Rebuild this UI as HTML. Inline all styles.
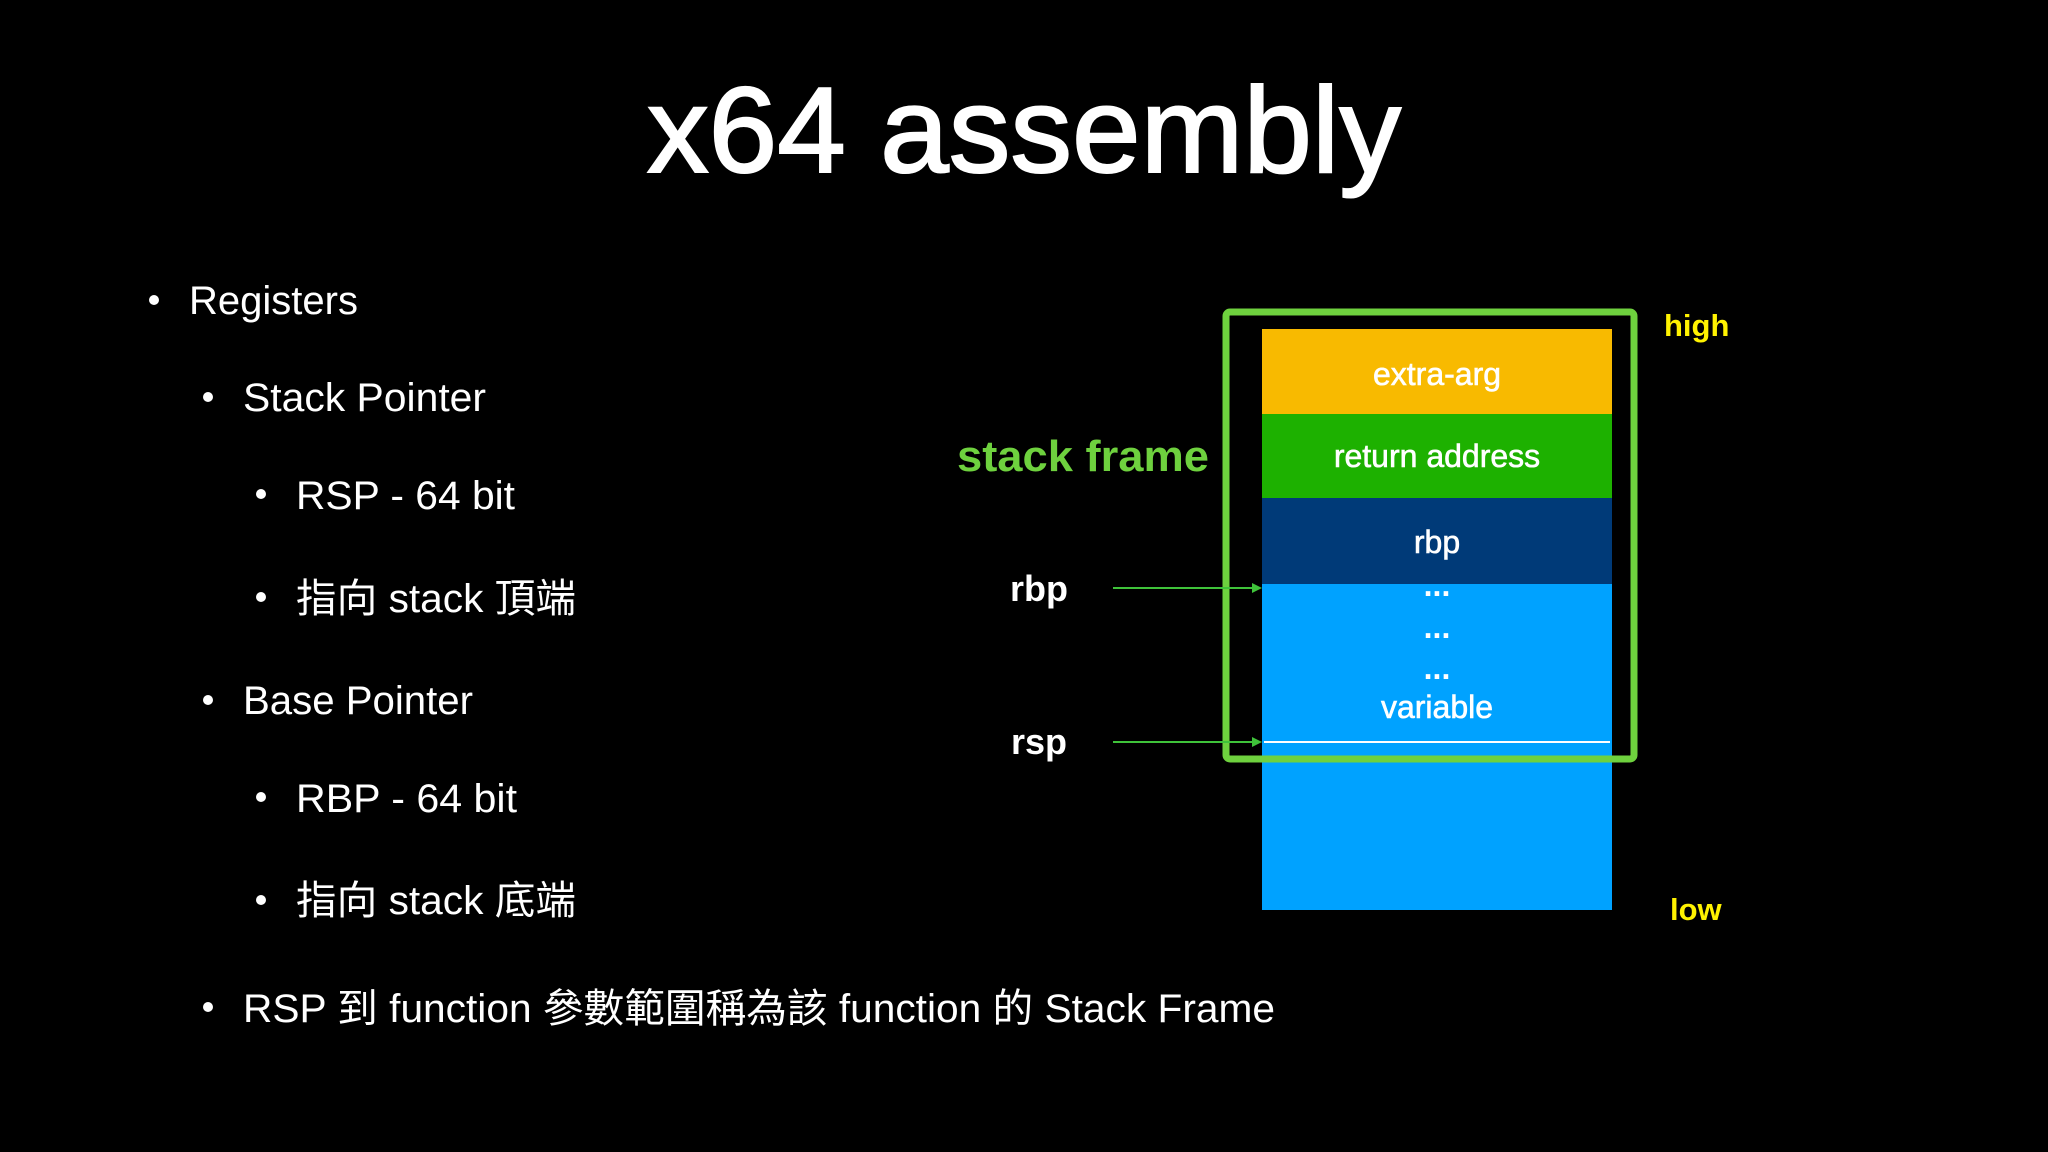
<!DOCTYPE html>
<html><head><meta charset="utf-8"><style>
html,body{margin:0;padding:0;background:#000;}
svg{display:block;}
text{font-family:"Liberation Sans","Noto Sans CJK TC",sans-serif;}
</style></head><body>
<svg width="2048" height="1152" viewBox="0 0 2048 1152" xmlns="http://www.w3.org/2000/svg">
<rect width="2048" height="1152" fill="#000"/>
<text x="1024" y="172" font-size="122" fill="#fff" stroke="#fff" stroke-width="2" text-anchor="middle" textLength="754" lengthAdjust="spacingAndGlyphs">x64 assembly</text>

<g fill="#fff" font-size="40">
<circle cx="154" cy="300" r="5"/>
<text x="189" y="314" textLength="169" lengthAdjust="spacingAndGlyphs">Registers</text>
<circle cx="208" cy="397" r="5"/>
<text x="243" y="411" textLength="243" lengthAdjust="spacingAndGlyphs">Stack Pointer</text>
<circle cx="261" cy="494" r="5"/>
<text x="296" y="509" textLength="219" lengthAdjust="spacingAndGlyphs">RSP - 64 bit</text>
<circle cx="261" cy="597" r="5"/>
<text x="296" y="612" textLength="280" lengthAdjust="spacingAndGlyphs">指向 stack 頂端</text>
<circle cx="208" cy="700" r="5"/>
<text x="243" y="714" textLength="230" lengthAdjust="spacingAndGlyphs">Base Pointer</text>
<circle cx="261" cy="797" r="5"/>
<text x="296" y="812" textLength="221" lengthAdjust="spacingAndGlyphs">RBP - 64 bit</text>
<circle cx="261" cy="900" r="5"/>
<text x="296" y="914" textLength="280" lengthAdjust="spacingAndGlyphs">指向 stack 底端</text>
<circle cx="208" cy="1007" r="5"/>
<text x="243" y="1022" textLength="1032" lengthAdjust="spacingAndGlyphs">RSP 到 function 參數範圍稱為該 function 的 Stack Frame</text>
</g>

<rect x="1262" y="329" width="350" height="86" fill="#f8ba00"/>
<rect x="1262" y="414" width="350" height="84" fill="#1db100"/>
<rect x="1262" y="498" width="350" height="86" fill="#003a78"/>
<rect x="1262" y="584" width="350" height="326" fill="#00a2ff"/>
<line x1="1264" y1="742" x2="1610" y2="742" stroke="#fff" stroke-width="2"/>

<g fill="#fff" font-size="32" text-anchor="middle" stroke="#fff" stroke-width="0.6">
<text x="1437" y="385">extra-arg</text>
<text x="1437" y="467">return address</text>
<text x="1437" y="553">rbp</text>
<text x="1437" y="718">variable</text>
</g>
<g fill="#fff" font-size="32" font-weight="bold" text-anchor="middle">
<text x="1437" y="596">...</text>
<text x="1437" y="638">...</text>
<text x="1437" y="679">...</text>
</g>

<rect x="1226" y="312" width="408" height="447" fill="none" stroke="#6ed13e" stroke-width="7" rx="4"/>

<text x="957" y="471" font-size="44" font-weight="bold" fill="#6ed13e" textLength="252" lengthAdjust="spacingAndGlyphs">stack frame</text>
<text x="1010" y="601" font-size="36" font-weight="bold" fill="#fff">rbp</text>
<text x="1011" y="754" font-size="36" font-weight="bold" fill="#fff">rsp</text>

<g stroke="#3fc33a" stroke-width="2">
<line x1="1113" y1="588" x2="1254" y2="588"/>
<line x1="1113" y1="742" x2="1254" y2="742"/>
</g>
<polygon points="1262,588 1252,583 1252,593" fill="#3fc33a"/>
<polygon points="1262,742 1252,737 1252,747" fill="#3fc33a"/>

<text x="1664" y="336" font-size="31" font-weight="bold" fill="#fff200">high</text>
<text x="1670" y="920" font-size="31" font-weight="bold" fill="#fff200">low</text>
</svg>
</body></html>
